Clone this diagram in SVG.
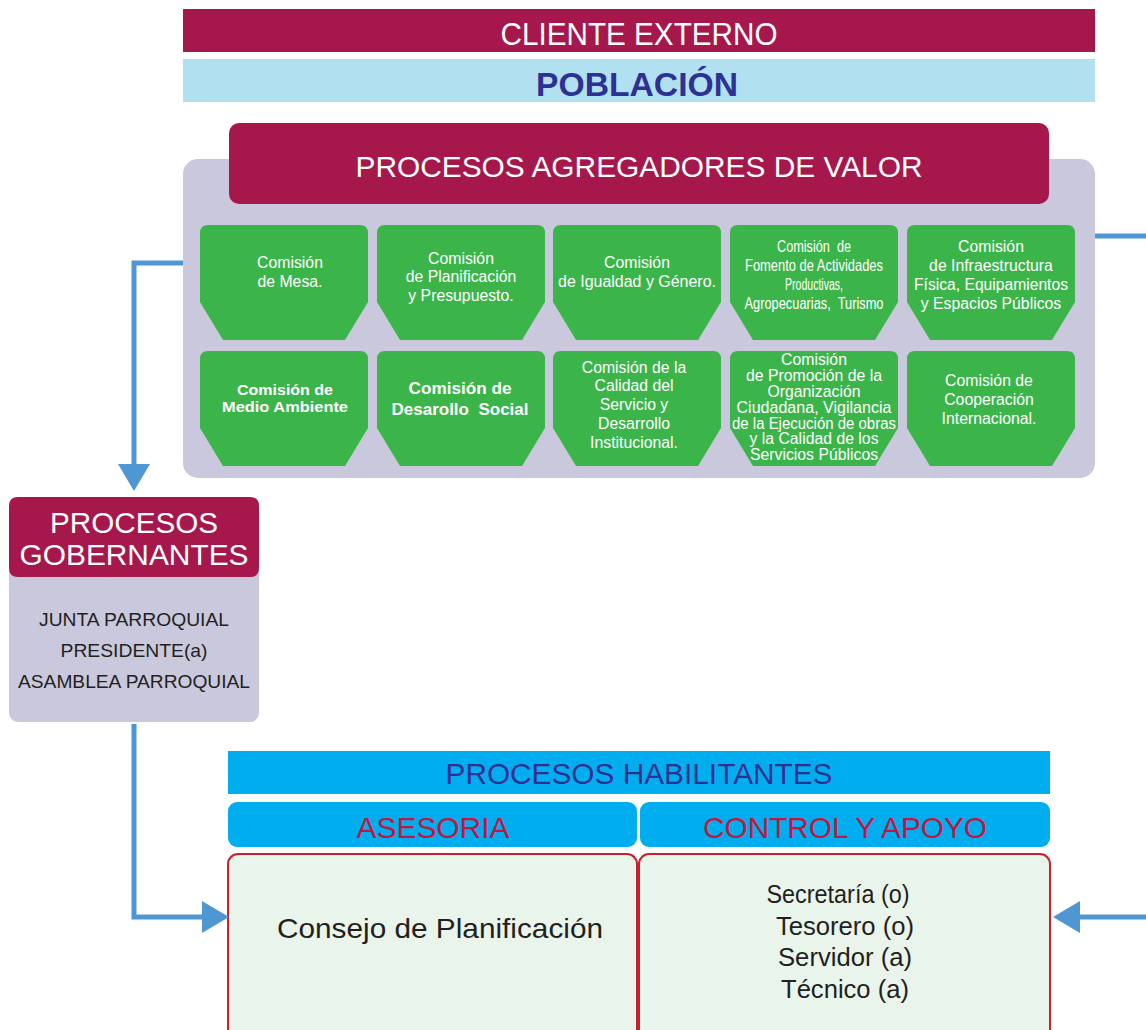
<svg xmlns="http://www.w3.org/2000/svg" xmlns:xlink="http://www.w3.org/1999/xlink" width="1146" height="1030" viewBox="0 0 1146 1030">
<style>
text{font-family:"Liberation Sans",Arial,sans-serif;}
.w{fill:#ffffff;text-anchor:middle;}
.c{fill:#ffffff;text-anchor:middle;font-size:15.8px;}
.cb{fill:#ffffff;text-anchor:middle;font-weight:bold;}
.d{fill:#231f20;text-anchor:middle;}
.r{fill:#c0163f;text-anchor:middle;font-size:30px;}
.maroon{fill:#a6184b;}
.card{fill:#3bb54a;}
.lav{fill:#c9c8dd;}
.conn{fill:none;stroke:#4f97d3;stroke-width:5;}
.head{fill:#4f97d3;}
.box{fill:#e9f4eb;stroke:#c8202f;stroke-width:2;}
.cy{fill:#00aeef;}
</style>
<defs>
<path id="card" d="M0,8 Q0,0 8,0 H160 Q168,0 168,8 V77 L145,115 H23 L0,77 Z"/>
</defs>

<g id="cliente">
<rect x="183" y="9" width="912" height="43" class="maroon"/>
<text x="639" y="45" class="w" font-size="31" textLength="277" lengthAdjust="spacingAndGlyphs">CLIENTE EXTERNO</text>
</g>
<g id="poblacion">
<rect x="183" y="59" width="912" height="43" fill="#b1e0f1"/>
<text x="637" y="96" font-size="34" font-weight="bold" fill="#2e3192" text-anchor="middle" textLength="202" lengthAdjust="spacingAndGlyphs">POBLACIÓN</text>
</g>

<g id="agregadores">
<rect x="183" y="159" width="912" height="319" rx="15" class="lav"/>
<rect x="229" y="123" width="820" height="81" rx="10" class="maroon"/>
<text x="639" y="177" class="w" font-size="30" textLength="567" lengthAdjust="spacingAndGlyphs">PROCESOS AGREGADORES DE VALOR</text>
</g>

<g id="c-mesa">
<use xlink:href="#card" href="#card" x="200" y="225" class="card"/>
<text class="c"><tspan x="290" y="268">Comisión</tspan><tspan x="290" y="287">de Mesa.</tspan></text>
</g>
<g id="c-planificacion">
<use xlink:href="#card" href="#card" x="377" y="225" class="card"/>
<text class="c"><tspan x="461" y="264">Comisión</tspan><tspan x="461" y="282">de Planificación</tspan><tspan x="461" y="301">y Presupuesto.</tspan></text>
</g>
<g id="c-igualdad">
<use xlink:href="#card" href="#card" x="553" y="225" class="card"/>
<text class="c"><tspan x="637" y="268">Comisión</tspan><tspan x="637" y="287" textLength="158" lengthAdjust="spacingAndGlyphs">de Igualdad y Género.</tspan></text>
</g>
<g id="c-fomento">
<use xlink:href="#card" href="#card" x="730" y="225" class="card"/>
<text class="c" font-size="13.5"><tspan x="814" y="252" textLength="74" lengthAdjust="spacingAndGlyphs">Comisión&#160; de</tspan><tspan x="814" y="271" textLength="138" lengthAdjust="spacingAndGlyphs">Fomento de Actividades</tspan><tspan x="814" y="290" textLength="58" lengthAdjust="spacingAndGlyphs">Productivas,</tspan><tspan x="814" y="309" textLength="139" lengthAdjust="spacingAndGlyphs">Agropecuarias,&#160; Turismo</tspan></text>
</g>
<g id="c-infraestructura">
<use xlink:href="#card" href="#card" x="907" y="225" class="card"/>
<text class="c"><tspan x="991" y="252">Comisión</tspan><tspan x="991" y="271">de Infraestructura</tspan><tspan x="991" y="290" textLength="154" lengthAdjust="spacingAndGlyphs">Física, Equipamientos</tspan><tspan x="991" y="309">y Espacios Públicos</tspan></text>
</g>

<g id="c-ambiente">
<use xlink:href="#card" href="#card" x="200" y="351" class="card"/>
<text class="cb" font-size="15.5"><tspan x="285" y="395" textLength="96" lengthAdjust="spacingAndGlyphs">Comisión de</tspan><tspan x="285" y="412" textLength="126" lengthAdjust="spacingAndGlyphs">Medio Ambiente</tspan></text>
</g>
<g id="c-social">
<use xlink:href="#card" href="#card" x="377" y="351" class="card"/>
<text class="cb" font-size="17"><tspan x="460" y="394" textLength="103" lengthAdjust="spacingAndGlyphs">Comisión de</tspan><tspan x="460" y="415" textLength="137" lengthAdjust="spacingAndGlyphs">Desarollo&#160; Social</tspan></text>
</g>
<g id="c-calidad">
<use xlink:href="#card" href="#card" x="553" y="351" class="card"/>
<text class="c"><tspan x="634" y="373">Comisión de la</tspan><tspan x="634" y="391">Calidad del</tspan><tspan x="634" y="410">Servicio y</tspan><tspan x="634" y="429">Desarrollo</tspan><tspan x="634" y="448">Institucional.</tspan></text>
</g>
<g id="c-promocion">
<use xlink:href="#card" href="#card" x="730" y="351" class="card"/>
<text class="c" font-size="15.5"><tspan x="814" y="365">Comisión</tspan><tspan x="814" y="381">de Promoción de la</tspan><tspan x="814" y="397">Organización</tspan><tspan x="814" y="413" textLength="155" lengthAdjust="spacingAndGlyphs">Ciudadana, Vigilancia</tspan><tspan x="814" y="429" textLength="164" lengthAdjust="spacingAndGlyphs">de la Ejecución de obras</tspan><tspan x="814" y="444">y la Calidad de los</tspan><tspan x="814" y="460">Servicios Públicos</tspan></text>
</g>
<g id="c-cooperacion">
<use xlink:href="#card" href="#card" x="907" y="351" class="card"/>
<text class="c"><tspan x="989" y="386">Comisión de</tspan><tspan x="989" y="405">Cooperación</tspan><tspan x="989" y="424">Internacional.</tspan></text>
</g>

<g id="gobernantes">
<rect x="9" y="497" width="250" height="225" rx="9" class="lav"/>
<path d="M9,506 Q9,497 18,497 H250 Q259,497 259,506 V568 Q259,577 250,577 H18 Q9,577 9,568 Z" class="maroon"/>
<text class="w" font-size="29"><tspan x="134" y="533" textLength="168" lengthAdjust="spacingAndGlyphs">PROCESOS</tspan><tspan x="134" y="565" textLength="229" lengthAdjust="spacingAndGlyphs">GOBERNANTES</tspan></text>
<text class="d" font-size="19"><tspan x="134" y="626" textLength="190" lengthAdjust="spacingAndGlyphs">JUNTA PARROQUIAL</tspan><tspan x="134" y="657" textLength="147" lengthAdjust="spacingAndGlyphs">PRESIDENTE(a)</tspan><tspan x="134" y="688" textLength="232" lengthAdjust="spacingAndGlyphs">ASAMBLEA PARROQUIAL</tspan></text>
</g>

<g id="habilitantes">
<rect x="228" y="751" width="822" height="43" class="cy"/>
<text x="639" y="784" font-size="29" fill="#2e3192" text-anchor="middle" textLength="387" lengthAdjust="spacingAndGlyphs">PROCESOS HABILITANTES</text>
</g>
<g id="asesoria">
<rect x="228" y="802" width="409" height="45" rx="9" class="cy"/>
<text x="433" y="838" class="r" textLength="153" lengthAdjust="spacingAndGlyphs">ASESORIA</text>
<rect x="228" y="854" width="409" height="190" rx="10" class="box"/>
<text x="440" y="938" class="d" font-size="28" textLength="326" lengthAdjust="spacingAndGlyphs">Consejo de Planificación</text>
</g>
<g id="control">
<rect x="640" y="802" width="410" height="45" rx="9" class="cy"/>
<text x="845" y="838" class="r" textLength="284" lengthAdjust="spacingAndGlyphs">CONTROL Y APOYO</text>
<rect x="639" y="854" width="411" height="190" rx="10" class="box"/>
<text class="d" font-size="25"><tspan x="838" y="903" textLength="143" lengthAdjust="spacingAndGlyphs">Secretaría (o)</tspan><tspan x="845" y="935" textLength="138" lengthAdjust="spacingAndGlyphs">Tesorero (o)</tspan><tspan x="845" y="966" textLength="134" lengthAdjust="spacingAndGlyphs">Servidor (a)</tspan><tspan x="845" y="998" textLength="128" lengthAdjust="spacingAndGlyphs">Técnico (a)</tspan></text>
</g>

<g id="connectors">
<polyline class="conn" points="183,263 134,263 134,465"/>
<polygon class="head" points="118,464 150,464 134,491"/>
<polyline class="conn" points="1095,236 1146,236"/>
<polyline class="conn" points="134,724 134,917 204,917"/>
<polygon class="head" points="202,901 202,933 229,917"/>
<polyline class="conn" points="1146,917 1078,917"/>
<polygon class="head" points="1080,901 1080,933 1053,917"/>
</g>
</svg>
